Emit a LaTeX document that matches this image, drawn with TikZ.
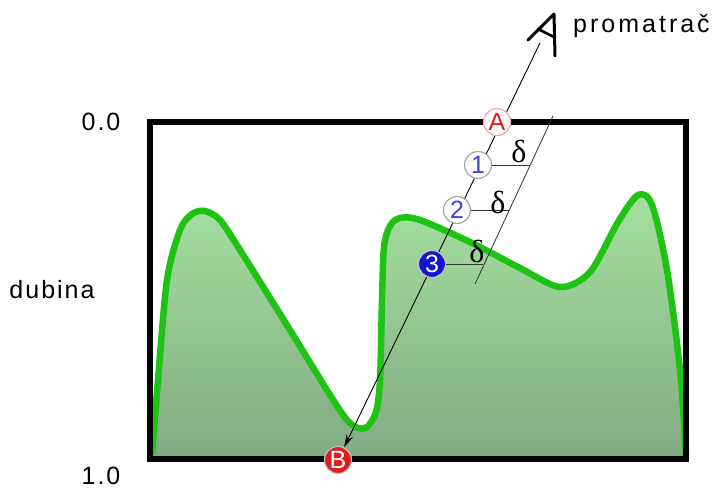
\documentclass[tikz,border=0pt]{standalone}
\usepackage{fontspec}
\setmainfont{Liberation Sans}
\newfontfamily\deltafont{Liberation Serif}
\usetikzlibrary{arrows.meta}
\definecolor{curvegreen}{RGB}{30,195,20}
\definecolor{filltop}{RGB}{165,225,160}
\definecolor{fillbot}{RGB}{130,170,130}
\definecolor{circred}{RGB}{220,30,30}
\definecolor{circblue}{RGB}{20,20,210}
\tikzset{
  lbl/.style={font=\addfontfeature{LetterSpace=8}\fontsize{25}{28}\selectfont, inner sep=0pt},
  ptopen/.style={circle, draw=gray!70, fill=white, line width=1.2pt, minimum size=27pt, inner sep=0pt, font=\fontsize{25}{25}\selectfont},
  ptfull/.style={circle, draw=gray!50, line width=1.2pt, minimum size=27pt, inner sep=0pt, text=white, font=\fontsize{25}{25}\selectfont},
  dlt/.style={font=\deltafont\fontsize{32}{32}\selectfont, inner sep=0pt},
  thin line/.style={line width=0.8pt, black!80},
}
\begin{document}
\begin{tikzpicture}[x=1pt,y=-1pt]
\useasboundingbox (0,0) rectangle (722,492);
\def\terrain{(152,455) (158,380) (167,280) (180,230) (192,214) (205,211) (220,220) (240,250) (290,330) (330,395) (347,420) (358,428) (367,427) (376,412) (380,380) (382,300) (384,247) (390,226) (400,218) (420,220) (470,242) (520,268) (560,287) (590,272) (618,222) (638,195) (652,205) (667,270) (680,370) (686,455)}
% terrain fill
\shade[top color=filltop, bottom color=fillbot]
  plot[smooth, tension=0.5] coordinates {\terrain}
  -- (686,459) -- (152,459) -- cycle;
\draw[curvegreen, line width=6.5pt]
  plot[smooth, tension=0.5] coordinates {\terrain};
% frame
\draw[line width=5.5pt] (150,122) rectangle (686,459);
% labels
\node[lbl] (l00) at (101,122) {0.0};
\node[lbl] (l10) at (101,476) {1.0};
\node[lbl] (ldub) at (52,290) {dubina};
\node[lbl, anchor=west, font=\addfontfeature{LetterSpace=12}\fontsize{25}{28}\selectfont] (lprom) at (573,26) {promatrač};
% eye glyph
\draw[line width=3pt, line cap=round, line join=round] (528,40) .. controls (540,28) .. (554,14) -- (555,56);
\draw[line width=2.5pt, line cap=round] (538,29) -- (554,37);
\coordinate (eye) at (540,43);
% end point
\node[ptfull, fill=circred] (B) at (338,460) {B};
% line of sight with arrow
\draw[line width=0.9pt, -{Stealth[length=13pt, width=7pt]}] (eye) -- (B);
% parallel line
\coordinate (p1) at (553,116);
\coordinate (p2) at (475,284);
\draw[thin line] (p1) -- (p2);
% sample points
\node[ptopen, draw=circred!40, text=circred] (A) at (497,122) {A};
\node[ptopen, text=circblue!80] (n1) at (478,165) {1};
\node[ptopen, text=circblue!80] (n2) at (457,210) {2};
\node[ptfull, fill=circblue] (n3) at (432,264) {3};
% ticks
\draw[thin line] (n1.east) -- ++(38,0) coordinate (t1);
\draw[thin line] (n2.east) -- ++(38,0) coordinate (t2);
\draw[thin line] (n3.east) -- ++(37,0) coordinate (t3);
\node[dlt] (d1) at (519,151) {δ};
\node[dlt] (d2) at (498,202) {δ};
\node[dlt] (d3) at (477,251) {δ};
\end{tikzpicture}
\end{document}
